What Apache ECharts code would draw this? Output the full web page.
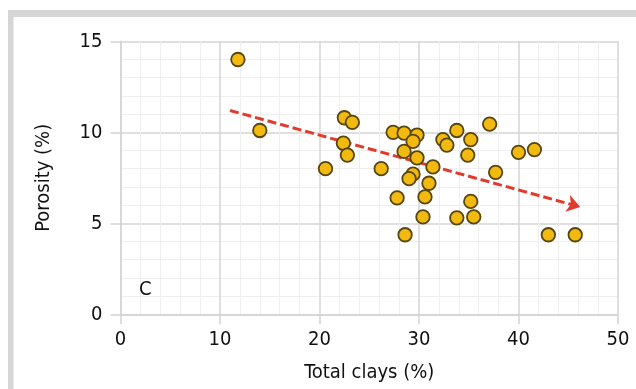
<!DOCTYPE html>
<html>
<head>
<meta charset="utf-8">
<script src="https://cdn.jsdelivr.net/npm/echarts@6/dist/echarts.min.js"></script>
<style>
html,body{margin:0;padding:0;background:#fff;}
#chart{width:636px;height:389px;}
</style>
</head>
<body>
<div id="chart"></div>
<script>
// Total clays (%)
const clays = [11.8, 14.0, 20.6, 22.5, 23.3, 22.4, 22.8, 26.2, 27.4, 28.5, 29.8, 29.4, 28.5, 29.8, 31.4, 29.4, 29.0, 31.0, 27.8, 30.6, 30.4, 28.6, 32.4, 32.8, 33.8, 35.2, 34.9, 37.1, 37.7, 35.2, 33.8, 35.5, 40.0, 41.6, 43.0, 45.7];
// Porosity (%)
const porosity = [14.0, 10.1, 8.0, 10.8, 10.55, 9.4, 8.75, 8.0, 10.0, 9.95, 9.85, 9.5, 8.95, 8.6, 8.1, 7.7, 7.45, 7.2, 6.4, 6.45, 5.35, 4.37, 9.6, 9.3, 10.1, 9.6, 8.75, 10.45, 7.8, 6.2, 5.3, 5.35, 8.9, 9.05, 4.37, 4.37];
// trend arrow [start, end] in data units
const trendStart = [11.0, 11.2];
const trendEnd = [46.2, 5.9];
const xTicks = [0, 10, 20, 30, 40, 50];
const yTicks = [0, 5, 10, 15];
const panelLabel = 'C';

const FONT = "'Liberation Sans Narrow', 'DejaVu Sans Condensed', sans-serif";
const points = clays.map((c, i) => [c, porosity[i]]);

const chart = echarts.init(document.getElementById('chart'), null, {renderer: 'canvas'});
const gridCol = '#d4d4d4';
const minorCol = '#efefef';
const FS = 20;
chart.setOption({
  animation: false,
  backgroundColor: '#ffffff',
  grid: {left: 120.5, right: 18, top: 41.3, bottom: 74.7},
  xAxis: {
    type: 'value', min: xTicks[0], max: xTicks[xTicks.length - 1], interval: 10,
    name: 'Total clays (%)', nameLocation: 'middle', nameGap: 48,
    nameTextStyle: {fontFamily: FONT, fontSize: FS, color: '#111'},
    axisLine: {show: true, lineStyle: {color: gridCol, width: 1.5}},
    axisTick: {show: true, length: 10, lineStyle: {color: gridCol, width: 1.5}},
    axisLabel: {fontFamily: FONT, fontSize: FS, color: '#111', margin: 15},
    splitLine: {show: true, lineStyle: {color: gridCol, width: 1.5}},
    minorTick: {show: false, splitNumber: 5},
    minorSplitLine: {show: true, lineStyle: {color: minorCol, width: 1}}
  },
  yAxis: {
    type: 'value', min: yTicks[0], max: yTicks[yTicks.length - 1], interval: 5,
    name: 'Porosity (%)', nameLocation: 'middle', nameGap: 67,
    nameTextStyle: {fontFamily: FONT, fontSize: FS, color: '#111'},
    axisLine: {show: true, lineStyle: {color: gridCol, width: 1.5}},
    axisTick: {show: true, length: 10, lineStyle: {color: gridCol, width: 1.5}},
    axisLabel: {fontFamily: FONT, fontSize: FS, color: '#111', margin: 18},
    splitLine: {show: true, lineStyle: {color: gridCol, width: 1.5}},
    minorTick: {show: false, splitNumber: 5},
    minorSplitLine: {show: true, lineStyle: {color: minorCol, width: 1}}
  },
  series: [{
    type: 'scatter',
    data: points,
    symbol: 'circle',
    symbolSize: 13.5,
    itemStyle: {color: '#f2b90f', borderColor: '#574610', borderWidth: 1.8, opacity: 1},
    z: 3,
    markLine: {
      silent: true,
      symbol: ['none', 'arrow'],
      symbolSize: [13, 13],
      label: {show: false},
      lineStyle: {color: '#e23a2c', width: 3, type: [9, 4]},
      data: [[{coord: trendStart}, {coord: trendEnd}]],
      z: 2
    }
  }],
  graphic: [
    {type: 'rect', shape: {x: 8, y: 10, width: 628, height: 7}, style: {fill: '#d6d6d6'}, z: 100},
    {type: 'rect', shape: {x: 8, y: 10, width: 5.5, height: 379}, style: {fill: '#d6d6d6'}, z: 100},
    {type: 'text', left: 139, top: 280, style: {text: panelLabel, fontFamily: FONT, fontSize: FS, fill: '#111'}, z: 100}
  ]
});
</script>
</body>
</html>
